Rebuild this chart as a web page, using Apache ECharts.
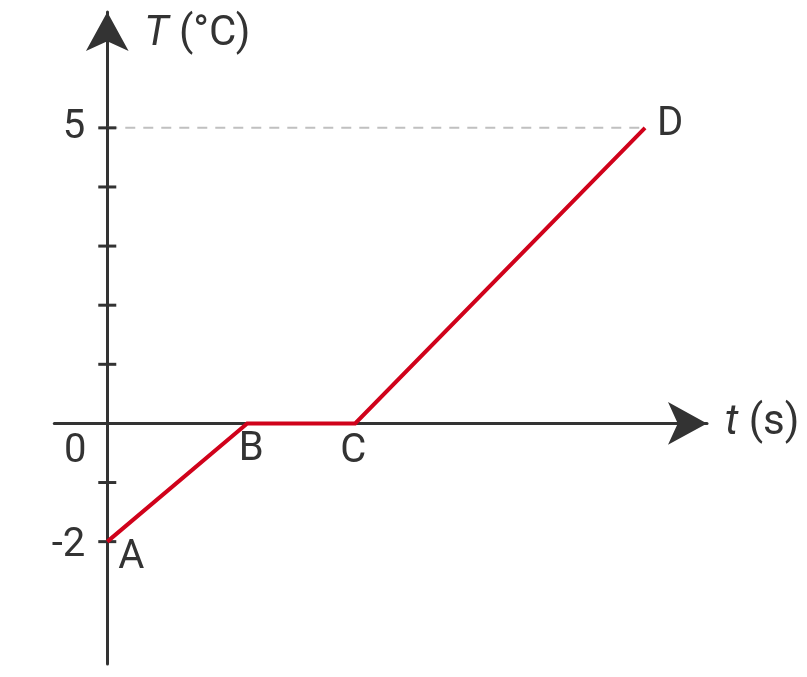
<!DOCTYPE html>
<html>
<head>
<meta charset="utf-8">
<script src="https://cdn.jsdelivr.net/npm/echarts@6/dist/echarts.min.js"></script>
<style>
  html, body { margin: 0; padding: 0; background: #fff; }
  #chart { width: 807px; height: 677px; }
</style>
</head>
<body>
<div id="chart"></div>
<script>
// data
const tValues = [0, 14, 24.8, 53.8]
const tempValues = [-2, 0, 0, 5]
const pointNames = ["A", "B", "C", "D"]
const tempTicks = [-2, -1, 1, 2, 3, 4, 5]
const tempLabels = [-2, 5]
const originLabel = "0"

const ink = "#333333"
const font = "Roboto, 'Liberation Sans', sans-serif"

// label offsets round each point (layout only)
const labelOffsets = [[24, 16], [4, 27], [-2, 29], [25, -3]]

const curve = tValues.map((t, i) => [t, tempValues[i]])
const guide = [[0, tempValues[3]], [tValues[3], tempValues[3]]]

const chart = echarts.init(document.getElementById("chart"))

const textLabel = (text, offset, align) => ({
  show: true,
  position: "inside",
  offset: offset,
  align: align || "center",
  formatter: text,
  fontSize: 40,
  color: ink,
  opacity: 1,
  fontFamily: font
})

const option = {
  animation: false,
  textStyle: { fontFamily: font },
  grid: { left: 54.3, right: 100, top: 12, bottom: 13 },
  xAxis: {
    type: "value",
    min: -5.3,
    max: 60,
    name: "{i|t} (s)",
    nameLocation: "end",
    nameGap: 18,
    nameTextStyle: {
      fontSize: 42,
      color: ink,
      fontFamily: font,
      rich: { i: { fontSize: 42, fontStyle: "italic", color: ink, fontFamily: font } }
    },
    axisLine: {
      onZero: true,
      symbol: ["none", "arrow"],
      symbolSize: [32, 39],
      lineStyle: { color: ink, width: 3 }
    },
    axisTick: { show: false },
    axisLabel: { show: false },
    splitLine: { show: false }
  },
  yAxis: {
    type: "value",
    min: -4.07,
    max: 6.96,
    name: "{i|T} (°C)",
    nameLocation: "end",
    nameGap: -22,
    nameTextStyle: {
      fontSize: 42,
      color: ink,
      fontFamily: font,
      align: "left",
      verticalAlign: "middle",
      padding: [0, 0, 0, 37],
      rich: { i: { fontSize: 42, fontStyle: "italic", color: ink, fontFamily: font } }
    },
    axisLine: {
      onZero: true,
      symbol: ["none", "arrow"],
      symbolSize: [32, 39],
      lineStyle: { color: ink, width: 3 }
    },
    axisTick: { show: false },
    axisLabel: { show: false },
    splitLine: { show: false }
  },
  series: [
    {
      // dashed guide from the T axis to D
      type: "line",
      data: guide,
      showSymbol: false,
      silent: true,
      z: 1,
      lineStyle: { color: "#c0c0c0", width: 2, type: [10, 8] }
    },
    {
      // tick marks across the T axis
      type: "scatter",
      data: tempTicks.map(v => [0, v]),
      symbol: "rect",
      symbolSize: [18, 3],
      itemStyle: { color: ink, opacity: 1 },
      silent: true,
      z: 3
    },
    {
      type: "line",
      data: curve,
      showSymbol: false,
      z: 4,
      lineStyle: { color: "#d0021b", width: 4, join: "miter" }
    },
    {
      // point names
      type: "scatter",
      symbolSize: 0,
      silent: true,
      z: 5,
      itemStyle: { opacity: 1 },
      data: curve.map((p, i) => ({
        value: p,
        label: textLabel(pointNames[i], labelOffsets[i])
      }))
    },
    {
      // T tick labels and the origin
      type: "scatter",
      symbolSize: 0,
      silent: true,
      z: 5,
      itemStyle: { opacity: 1 },
      data: tempLabels.map(v => ({
        value: [0, v],
        label: textLabel(String(v), [-22, v < 0 ? 4 : 0], "right")
      })).concat([{
        value: [0, 0],
        label: textLabel(originLabel, [-32, 29])
      }])
    }
  ]
}

chart.setOption(option)
</script>
</body>
</html>
